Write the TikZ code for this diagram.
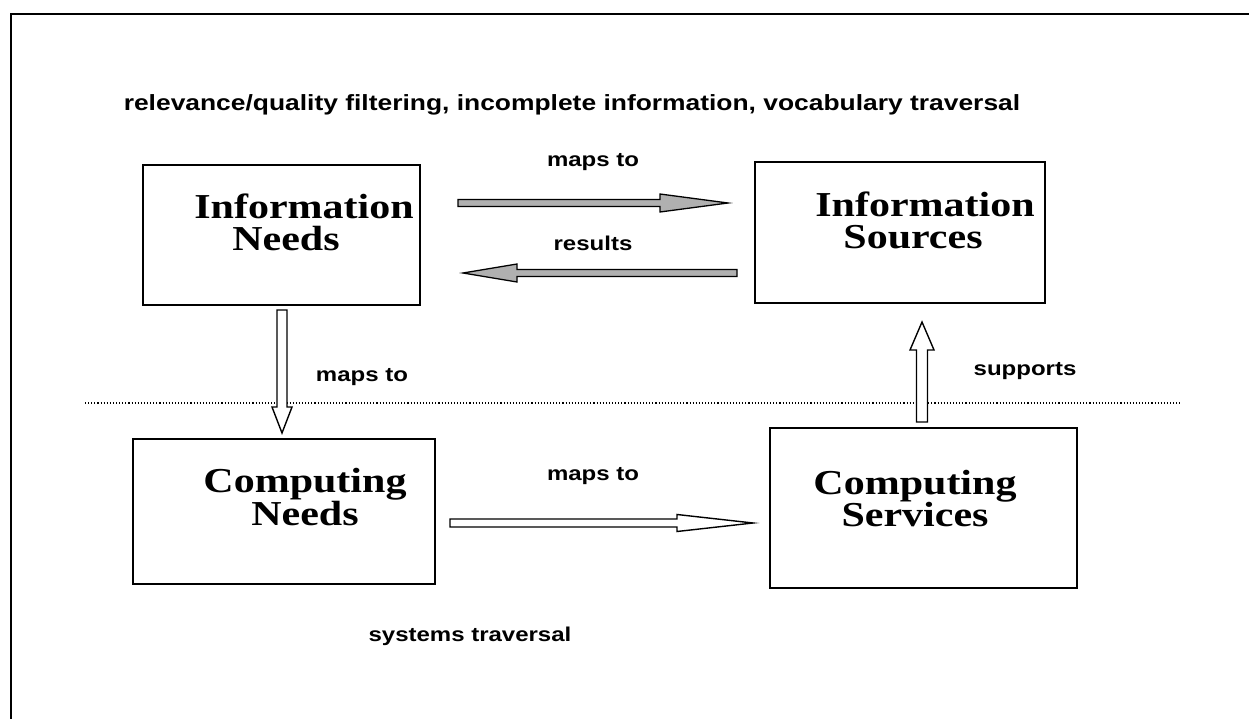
\documentclass[tikz,border=0pt]{standalone}
\usepackage{fontspec}
\usetikzlibrary{calc}
\newfontfamily\lab[FakeStretch=1.2]{Liberation Sans}
\newfontfamily\boxf[FakeStretch=1.2]{Liberation Serif}
\tikzset{
  box/.style={draw, line width=1.8pt, inner sep=0pt},
  boxtext/.style={font=\boxf\bfseries\fontsize{35}{32.5}\selectfont, align=center, inner sep=0pt},
  lbl/.style={font=\lab\bfseries\fontsize{20}{24}\selectfont, inner sep=0pt},
  toplbl/.style={font=\lab\bfseries\fontsize{22}{24}\selectfont, inner sep=0pt},
  fatgray/.style={draw, line width=1.3pt, fill=gray!62, line join=miter},
  fatwhite/.style={draw, line width=1.4pt, fill=white, line join=miter},
}
\begin{document}
\begin{tikzpicture}[x=1pt,y=-1pt]
\useasboundingbox (0,0) rectangle (1249,719);
\fill[white] (0,0) rectangle (1249,719);
% frame (top and left)
\draw[line width=2.8pt] (11,719) -- (11,14) -- (1249,14);

% boxes
\node[box, minimum width=277pt, minimum height=140pt] (inb) at (281.5,235) {};
\node[box, minimum width=290pt, minimum height=141pt] (isb) at (900,232.5) {};
\node[box, minimum width=302pt, minimum height=145pt] (cnb) at (284,511.5) {};
\node[box, minimum width=307pt, minimum height=160pt] (csb) at (923.5,508) {};

% box texts
\node[boxtext] (int) at (304,222.5) {Information\\\hspace*{-36pt}Needs};
\node[boxtext] (ist) at (925,220.5) {Information\\\hspace*{-24pt}Sources};
\node[boxtext] (cnt) at (305,497) {Computing\\Needs};
\node[boxtext] (cst) at (915,498.5) {Computing\\Services};

% dotted separator
\coordinate (dl) at (85,403);
\coordinate (dr) at (1180,403);
\draw[line width=1.1pt, dotted] (dl) -- (dr);

% arrow: maps to (right, gray)
\coordinate (a1t) at (458,203);
\coordinate (a1h) at (728,203);
\filldraw[fatgray] ($(a1t)+(0,-3.5)$) -- ($(a1h)+(-68,-3.5)$) -- ($(a1h)+(-68,-9)$) -- (a1h)
  -- ($(a1h)+(-68,9)$) -- ($(a1h)+(-68,3.5)$) -- ($(a1t)+(0,3.5)$) -- cycle;

% arrow: results (left, gray)
\coordinate (a2t) at (737,273);
\coordinate (a2h) at (463,273);
\filldraw[fatgray] ($(a2t)+(0,-3.5)$) -- ($(a2h)+(54,-3.5)$) -- ($(a2h)+(54,-9)$) -- (a2h)
  -- ($(a2h)+(54,9)$) -- ($(a2h)+(54,3.5)$) -- ($(a2t)+(0,3.5)$) -- cycle;

% arrow: maps to (down, white)
\coordinate (a3t) at (282,310);
\coordinate (a3h) at (282,433);
\filldraw[fatwhite] ($(a3t)+(-5,0)$) -- ($(a3h)+(-5,-26)$) -- ($(a3h)+(-10,-26)$) -- (a3h)
  -- ($(a3h)+(10,-26)$) -- ($(a3h)+(5,-26)$) -- ($(a3t)+(5,0)$) -- cycle;

% arrow: supports (up, white)
\coordinate (a4t) at (922,422);
\coordinate (a4h) at (922,322);
\filldraw[fatwhite] ($(a4t)+(-5.5,0)$) -- ($(a4h)+(-5.5,28)$) -- ($(a4h)+(-12,28)$) -- (a4h)
  -- ($(a4h)+(12,28)$) -- ($(a4h)+(5.5,28)$) -- ($(a4t)+(5.5,0)$) -- cycle;

% arrow: maps to (bottom, white)
\coordinate (a5t) at (450,523);
\coordinate (a5h) at (753,523);
\filldraw[fatwhite] ($(a5t)+(0,-4)$) -- ($(a5h)+(-76,-4)$) -- ($(a5h)+(-76,-8.5)$) -- (a5h)
  -- ($(a5h)+(-76,8.5)$) -- ($(a5h)+(-76,4)$) -- ($(a5t)+(0,4)$) -- cycle;

% labels
\node[toplbl] (ltop) at (572,105) {relevance/quality filtering, incomplete information, vocabulary traversal};
\node[lbl] (l1) at (593,162) {maps to};
\node[lbl] (l2) at (593,243) {results};
\node[lbl] (l3) at (362,377) {maps to};
\node[lbl] (l4) at (1025,371) {supports};
\node[lbl] (l5) at (593,476) {maps to};
\node[lbl] (l6) at (470,636) {systems traversal};
\end{tikzpicture}
\end{document}
